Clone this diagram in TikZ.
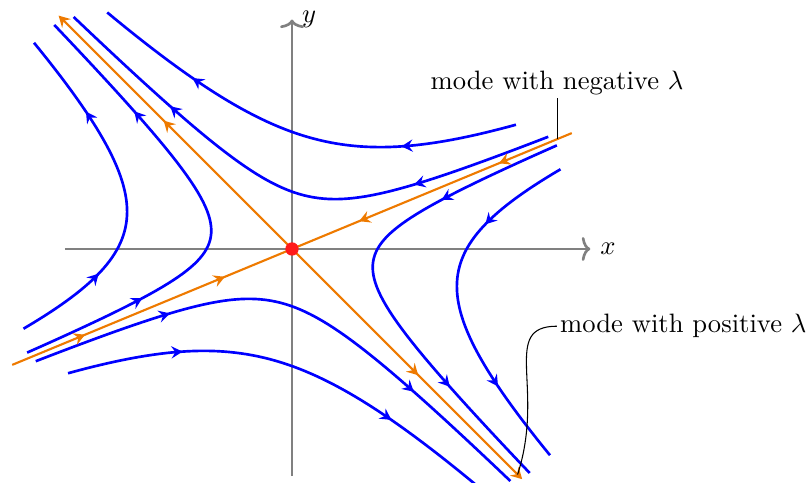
\documentclass[tikz,border=0pt]{standalone}
\usetikzlibrary{arrows.meta,decorations.markings,positioning}
\definecolor{AxisGray}{HTML}{808080}
\definecolor{FlowBlue}{HTML}{0000FF}
\definecolor{ModeOrange}{HTML}{EE7A00}
\definecolor{FixedRed}{HTML}{FF1A1A}

\begin{document}
\begin{tikzpicture}[
    flowtip/.tip={Stealth[length=4.2pt,width=4.6pt,inset=1.5pt]},
    axis/.style={-{To[length=3.2pt,width=9pt]},line width=1pt,color=AxisGray},
    axislabel/.style={text=black},
    twoarrows/.style={postaction={decorate},decoration={markings,
        mark=at position 0.26 with {\arrow{flowtip}},
        mark=at position 0.76 with {\arrow{flowtip}}}},
    midarrow/.style={-{flowtip},postaction={decorate},decoration={markings,
        mark=at position 0.55 with {\arrow{flowtip}}}},
    trajectory/.style={twoarrows,line width=1pt,color=FlowBlue},
    stable/.style={twoarrows,line width=0.8pt,color=ModeOrange},
    unstable/.style={midarrow,line width=0.8pt,color=ModeOrange},
    fixedpoint/.style={circle,fill=FixedRed,inner sep=0pt,minimum size=5pt},
    modelabel/.style={inner sep=1pt},
    pinline/.style={draw=black,line width=0.4pt}
  ]
  \useasboundingbox (-3.857,-3.078) rectangle (6.816,3.289);
  % axes
  \draw[axis] (-3,0) -- (3.94,0) node[axislabel,right] (xlabel) {$x$};
  \draw[axis] (0,-3) -- (0,3.03) node[axislabel,right] (ylabel) {$y$};
  % trajectories |u|^k |w| = c in the eigenbasis
  \foreach \su/\sw in {-1/1,-1/-1,1/-1,1/1}
    \foreach \c/\ta/\tb in {1.70/-0.877/1.42,0.46/-2.52/1.45}
      \draw[trajectory] plot[domain=\ta:\tb,samples=60,variable=\t]
        ({(\su)*0.7071*exp(\t)+(\sw)*0.9239*\c*exp(-0.83*\t)},
         {-(\su)*0.7071*exp(\t)+(\sw)*0.3827*\c*exp(-0.83*\t)});
  % eigen-directions
  \coordinate (fix) at (0,0);
  \coordinate (stabend1) at (22.5:4);
  \coordinate (stabend2) at (202.5:4);
  \coordinate (unstend1) at (135:4.36);
  \coordinate (unstend2) at (-45:4.3);
  \draw[stable] (stabend1) -- (fix);
  \draw[stable] (stabend2) -- (fix);
  \draw[unstable] (fix) -- (unstend1);
  \draw[unstable] (fix) -- (unstend2);
  \node[fixedpoint] (saddle) at (fix) {};
  % labels
  \coordinate (negmode) at (22.5:3.79);
  \node[modelabel,above=5.4mm of negmode] (neglabel) {mode with negative $\lambda$};
  \draw[pinline] (negmode) -- (neglabel);
  \coordinate (posmode) at (-45:4.214);
  \node[modelabel,anchor=west] (poslabel) at (3.50,-1.02) {mode with positive $\lambda$};
  \draw[pinline] (poslabel.west) .. controls +(180:0.75) and +(72:1.2) .. (posmode);
\end{tikzpicture}
\end{document}
